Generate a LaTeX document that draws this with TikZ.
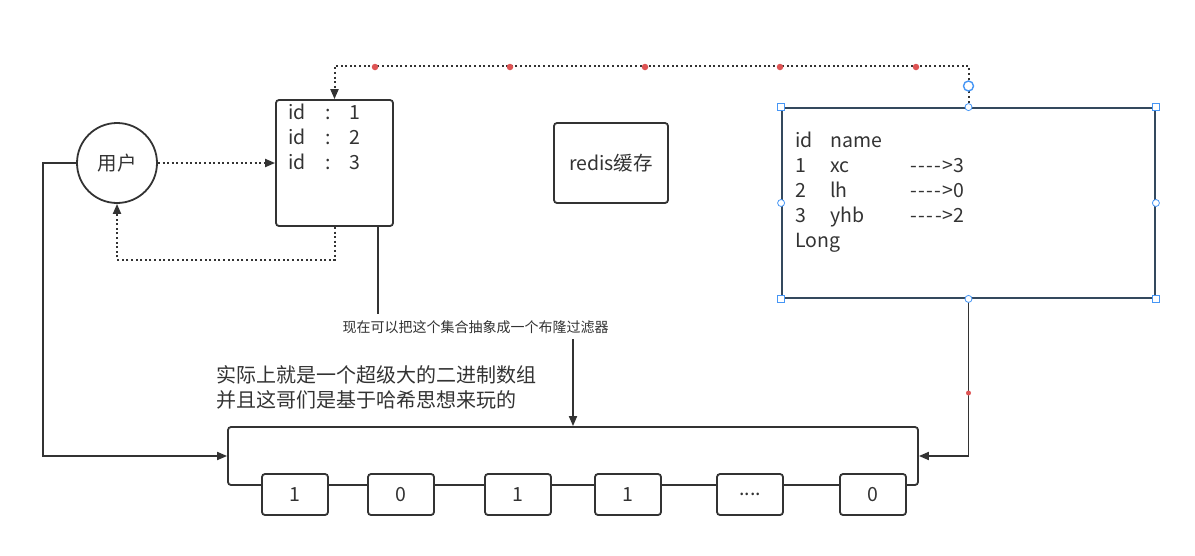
\documentclass[tikz,border=0pt]{standalone}
\usepackage{fontspec}
\setmainfont{Noto Sans CJK SC}
\usetikzlibrary{arrows.meta}
\definecolor{linegray}{RGB}{51,51,51}
\definecolor{boxblue}{RGB}{52,73,94}
\definecolor{handleblue}{RGB}{70,150,245}
\definecolor{dotred}{RGB}{222,84,84}

\begin{document}
\begin{tikzpicture}[x=1pt,y=-1pt,
  txt/.style={text=linegray, font=\fontsize{19.5}{25}\selectfont},
  box/.style={draw=linegray, line width=1.8pt, rounded corners=3pt, fill=white},
  cellbox/.style={box, txt, minimum width=66pt, minimum height=41pt, inner sep=0pt},
  link/.style={draw=linegray, line width=1.8pt, -{Triangle[length=10pt,width=8pt]}},
  dotlink/.style={link, line width=2pt, dash pattern=on 2pt off 2.6pt},
  waypoint/.style={fill=dotred, draw=none, circle, inner sep=0pt, minimum size=6.5pt},
  cornerhandle/.style={draw=handleblue, fill=white, line width=0.8pt, inner sep=0pt, minimum size=7pt},
  edgehandle/.style={cornerhandle, circle}]
\useasboundingbox (0,0) rectangle (1195,555);

% user and the id set
\node[draw=linegray, line width=1.8pt, circle, minimum size=80pt, inner sep=0pt, txt] (user) at (117,163) {用户};
\node[box, minimum width=117pt, minimum height=126pt] (ids) at (334.5,163) {};
\node[txt, anchor=west, inner sep=0pt] (idlist) at (288,139) {\begin{tabular}{@{}l@{\hspace{20pt}}c@{\hspace{18pt}}l@{}}id & : & 1\\ id & : & 2\\ id & : & 3\end{tabular}};

% cache
\node[box, minimum width=114pt, minimum height=80pt, txt] (redis) at (611,163) {redis缓存};

% hash table (selected in the editor)
\node[draw=boxblue, line width=1.8pt, minimum width=373pt, minimum height=190pt] (hashbox) at (968.5,203) {};
\node[txt, anchor=west, inner sep=0pt] (hashrows) at (795,192) {\begin{tabular}{@{}p{35pt}@{}p{80pt}@{}l@{}}id & name & \\ 1 & xc & -\hspace{1.5pt}-\hspace{1.5pt}-\hspace{1.5pt}-\hspace{1pt}>3\\ 2 & lh & -\hspace{1.5pt}-\hspace{1.5pt}-\hspace{1.5pt}-\hspace{1pt}>0\\ 3 & yhb & -\hspace{1.5pt}-\hspace{1.5pt}-\hspace{1.5pt}-\hspace{1pt}>2\\ Long & & \end{tabular}};

% bloom filter
\node[box, minimum width=690pt, minimum height=58pt] (bloom) at (573,456) {};
\node[cellbox] (bit1) at (295,494.5) {1};
\node[cellbox] (bit2) at (401,494.5) {0};
\node[cellbox] (bit3) at (518,494.5) {1};
\node[cellbox] (bit4) at (628,494.5) {1};
\node[cellbox] (bit5) at (750,494.5) {....};
\node[cellbox] (bit6) at (873,494.5) {0};
\node[txt, font=\fontsize{20}{25}\selectfont, anchor=west, align=left, inner sep=0pt] (note) at (216,387) {实际上就是一个超级大的二进制数组\\并且这哥们是基于哈希思想来玩的};

% connectors
\draw[dotlink] (user.east) -- (ids.west);
\draw[dotlink] (ids.south) -- ++(0,33) -| (user.south);
\draw[dotlink] (hashbox.north) -- ++(0,-41) -| (ids.north);
\draw[link] (user.west) -- ++(-33,0) |- (bloom.west);
\draw[link] (hashbox.south) |- (bloom.east);
\draw[link] ([xshift=43.5pt]ids.south) -- ++(0,100) coordinate (bend) -- (bend -| bloom.north)
  node[midway, fill=white, text=linegray, font=\fontsize{14}{16}\selectfont, inner sep=6pt] (label) {现在可以把这个集合抽象成一个布隆过滤器} -- (bloom.north);

% editor marks
\node[waypoint] at (375,67) {};
\node[waypoint] at (510,67) {};
\node[waypoint] at (645,67) {};
\node[waypoint] at (780,67) {};
\node[waypoint] at (916,67) {};
\node[waypoint, minimum size=5pt] at (968.5,393) {};
\node[edgehandle, minimum size=10pt, line width=1.4pt] at (968.5,86) {};
\node[cornerhandle] at (hashbox.north west) {};
\node[cornerhandle] at (hashbox.north east) {};
\node[cornerhandle] at (hashbox.south west) {};
\node[cornerhandle] at (hashbox.south east) {};
\node[edgehandle] at (hashbox.north) {};
\node[edgehandle] at (hashbox.south) {};
\node[edgehandle] at (hashbox.west) {};
\node[edgehandle] at (hashbox.east) {};
\end{tikzpicture}
\end{document}
